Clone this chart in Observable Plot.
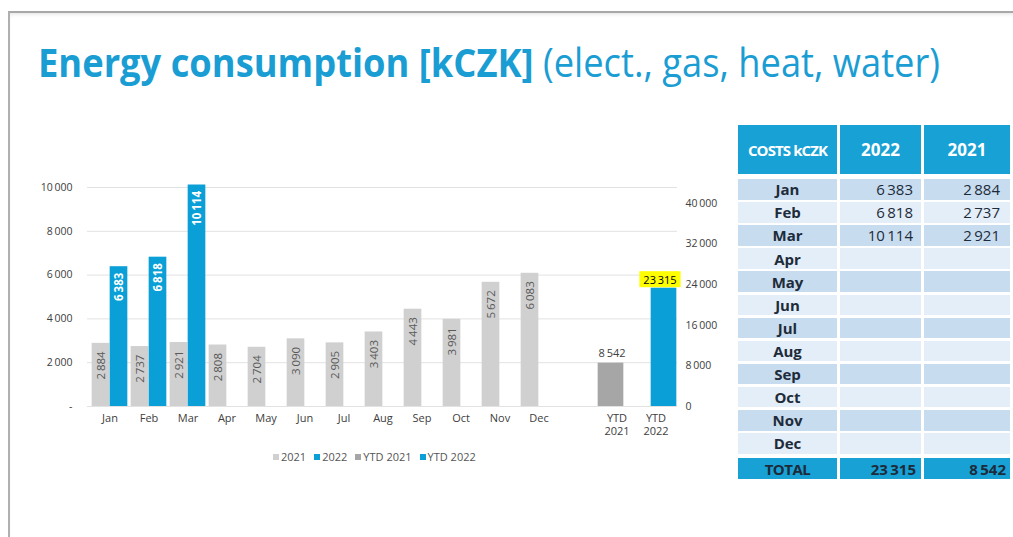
<!DOCTYPE html>
<html><head><meta charset="utf-8">
<script src="https://cdn.jsdelivr.net/npm/d3@7"></script>
<script src="https://cdn.jsdelivr.net/npm/@observablehq/plot@0.6"></script>
<style>
html,body{margin:0;padding:0;background:#fff;}
body{width:1013px;height:537px;overflow:hidden;position:relative;font-family:"Open Sans",sans-serif;}
#frame{position:absolute;left:8px;top:11px;right:-5px;bottom:-5px;border-top:2px solid #a8a8a8;border-left:2px solid #b0b0b0;box-shadow:inset 0 3px 4px -2px rgba(0,0,0,0.12);}
#title{position:absolute;left:38px;top:42px;white-space:nowrap;color:#1a9dd3;font-size:40px;line-height:40px;transform-origin:0 0;}
#title b{font-weight:700;}
#title span{font-weight:400;}
#chart{position:absolute;left:0;top:150px;width:720px;height:300px;}
#chart svg{position:absolute;left:0;top:0;overflow:visible;}
#legend{position:absolute;left:273px;top:449px;font-size:11px;color:#555;display:flex;gap:8px;white-space:nowrap;}
#legend span.sw{display:inline-block;width:6px;height:6px;margin-right:2px;vertical-align:1px;}
.cell{position:absolute;box-sizing:border-box;display:flex;align-items:center;white-space:nowrap;}
</style>
</head><body>
<div id="frame"></div>
<div id="title"><b>Energy consumption [kCZK]</b><span> (elect., gas, heat, water)</span></div>
<div id="chart"></div>
<div id="legend"></div>
<div id="table"></div>
<script>
// ---------- data ----------
const months = ["Jan","Feb","Mar","Apr","May","Jun","Jul","Aug","Sep","Oct","Nov","Dec"];
const values2021 = [2884,2737,2921,2808,2704,3090,2905,3403,4443,3981,5672,6083];
const values2022 = [6383,6818,10114];
const ytdCategories = ["YTD 2021","YTD 2022"];
const ytdValues = [8542,23315];
const leftTicks = [0,2000,4000,6000,8000,10000];
const rightTicks = [0,8000,16000,24000,32000,40000];
const legendLabels = ["2021","2022","YTD 2021","YTD 2022"];
const tableHeader = ["COSTS kCZK","2022","2021"];
const table2022 = [6383,6818,10114];
const table2021 = [2884,2737,2921];
const tableTotals = [23315,8542];

// ---------- styles ----------
const BLUE = "#0a9fd6", GRAY = "#d0d0d0", DGRAY = "#a6a6a6", TXT = "#404040";
const FONT = "'Open Sans', sans-serif";
const fmt = d => d3.format(",")(d).replace(/,/g, "\u2009");

const cats = [...months, " ", ...ytdCategories];
const rows2021 = months.map((m,i)=>({cat:m, value:values2021[i]}));
const rows2022 = values2022.map((v,i)=>({cat:months[i], value:v}));
const ytdRows = ytdCategories.map((c,i)=>({cat:c, value:ytdValues[i]}));

const common = {
  width:720, height:300, marginLeft:87, marginRight:43, marginTop:37, marginBottom:44,
  style:{fontFamily:FONT, background:"transparent", overflow:"visible"}
};
const bw = 590/15;

const p1 = Plot.plot({
  ...common,
  x:{type:"band", domain:cats, paddingInner:0, paddingOuter:0, label:null},
  y:{domain:[0,10000], label:null},
  marks:[
    Plot.gridY(leftTicks,{stroke:"#e2e2e2", strokeOpacity:1, strokeWidth:1}),
    Plot.axisY(leftTicks,{tickSize:0, tickPadding:15, label:null, tickFormat:d=>d===0?"-":fmt(d), fontSize:10.5, fill:TXT}),
    Plot.axisX({tickSize:0, tickPadding:8, label:null, tickFormat:d=>d.split(" ")[0], fontSize:11, fill:TXT}),
    Plot.axisX(ytdCategories,{tickSize:0, tickPadding:21, label:null, tickFormat:d=>d.split(" ")[1], fontSize:11, fill:TXT}),
    Plot.barY(rows2021,{x:"cat", y:"value", fill:GRAY, insetLeft:bw/2-18, insetRight:bw/2}),
    Plot.barY(rows2022,{x:"cat", y:"value", fill:BLUE, insetLeft:bw/2, insetRight:bw/2-18}),
    Plot.text(rows2021,{x:"cat", y:"value", text:d=>fmt(d.value), rotate:-90, textAnchor:"end", dx:-9, dy:8, fill:"#595959", fontSize:11.5}),
    Plot.text(rows2022,{x:"cat", y:"value", text:d=>fmt(d.value), rotate:-90, textAnchor:"end", dx:9, dy:6, fill:"#fff", fontSize:11.5, fontWeight:"bold"})
  ]
});

const p2 = Plot.plot({
  ...common,
  x:{type:"band", domain:cats, paddingInner:0, paddingOuter:0, axis:null},
  y:{domain:[0,43153], label:null},
  marks:[
    Plot.axisY(rightTicks,{anchor:"right", tickSize:0, tickPadding:8, label:null, tickFormat:fmt, fontSize:10.5, fill:TXT}),
    Plot.barY(ytdRows.slice(0,1),{x:"cat", y:"value", fill:DGRAY, insetLeft:(bw-26)/2, insetRight:(bw-26)/2, dx:-6}),
    Plot.barY(ytdRows.slice(1),{x:"cat", y:"value", fill:BLUE, insetLeft:(bw-26)/2, insetRight:(bw-26)/2, dx:8}),
    Plot.text(ytdRows.slice(0,1),{x:"cat", y:"value", text:d=>fmt(d.value), dx:-5, dy:-10, fill:TXT, fontSize:11}),
    Plot.text(ytdRows.slice(1),{x:"cat", y:"value", text:d=>fmt(d.value), dx:4, dy:-8, fill:"#000", fontSize:11})
  ]
});

const chart = document.getElementById("chart");
chart.appendChild(p1);
chart.appendChild(p2);

// yellow highlight behind YTD 2022 label
const hlText = fmt(ytdValues[1]);
p2.querySelectorAll("text").forEach(t=>{
  if (t.textContent === hlText) {
    const bb = t.getBBox();
    const r = document.createElementNS("http://www.w3.org/2000/svg","rect");
    r.setAttribute("x", bb.x-4); r.setAttribute("y", bb.y-0.5);
    r.setAttribute("width", bb.width+8); r.setAttribute("height", bb.height+1);
    r.setAttribute("fill","#ffff00");
    if (t.getAttribute("transform")) r.setAttribute("transform", t.getAttribute("transform"));
    t.parentNode.insertBefore(r, t);
  }
});

// legend
const legColors = [GRAY, BLUE, DGRAY, BLUE];
document.getElementById("legend").innerHTML = legendLabels.map((l,i)=>
  `<span><span class="sw" style="background:${legColors[i]}"></span>${l}</span>`).join("");

// title fit
const title = document.getElementById("title");
const tw = title.getBoundingClientRect().width;
title.style.transform = `scaleX(${902/tw})`;

// table
const tbl = document.getElementById("table");
const colX = [738, 840, 924], colW = [99, 81, 86];
function cell(x,y,w,h,bg,text,opts={}) {
  const d = document.createElement("div");
  d.className = "cell";
  Object.assign(d.style,{left:x+"px", top:y+"px", width:w+"px", height:h+"px", background:bg,
    justifyContent:opts.align||"center", paddingRight:(opts.pr||0)+"px",
    color:opts.color||"#1e2b3a", fontWeight:opts.bold?"700":"400", fontSize:(opts.fs||15)+"px",
    letterSpacing:(opts.ls||0)+"px"});
  d.textContent = text;
  tbl.appendChild(d);
}
const HB = "#17a1d5";
tableHeader.forEach((h,i)=>cell(colX[i],125,colW[i],49,HB,h,{bold:true,color:"#fff",fs:i===0?15:17,ls:i===0?-0.9:0}));
months.forEach((m,i)=>{
  const y = 179 + i*23.1;
  const bg = i%2===0 ? "#c7dcef" : "#e3eef8";
  cell(colX[0],y,colW[0],20.5,bg,m,{bold:true,fs:15});
  cell(colX[1],y,colW[1],20.5,bg,i<table2022.length?fmt(table2022[i]):"",{align:"flex-end",pr:8,fs:15});
  cell(colX[2],y,colW[2],20.5,bg,i<table2021.length?fmt(table2021[i]):"",{align:"flex-end",pr:10,fs:15});
});
cell(colX[0],458,colW[0],21,HB,"TOTAL",{bold:true,fs:15,ls:-0.5});
cell(colX[1],458,colW[1],21,HB,fmt(tableTotals[0]),{bold:true,align:"flex-end",pr:5,fs:15});
cell(colX[2],458,colW[2],21,HB,fmt(tableTotals[1]),{bold:true,align:"flex-end",pr:4,fs:15});
</script>
</body></html>
